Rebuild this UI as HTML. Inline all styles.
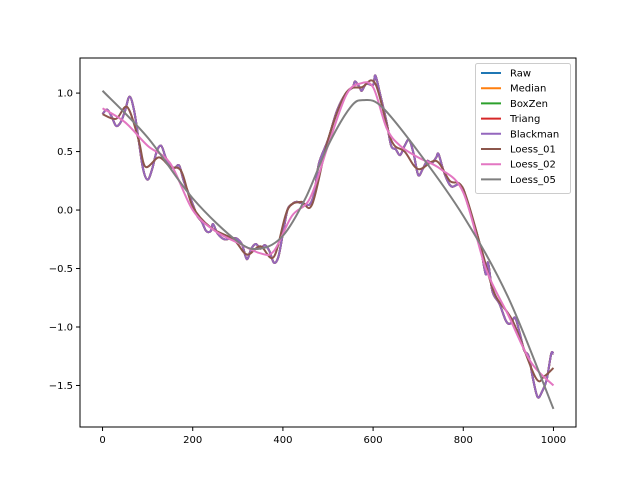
<!DOCTYPE html>
<html><head><meta charset="utf-8"><style>body{margin:0;background:#fff}svg{display:block;font-family:"DejaVu Sans","Liberation Sans",sans-serif}</style></head>
<body>
<svg id="chart" width="640" height="480" viewBox="0 0 640 480">
<rect width="640" height="480" fill="#fff"/>
<g id="plot"></g>
<g id="axes"></g>
<g id="legend"></g>
</svg>
<script>
const rawX=[0,10,20,30,40,50,60,70,80,90,100,110,120,130,140,150,160,170,180,190,200,210,220,230,240,245,255,270,290,300,310,320,330,340,350,360,370,380,390,400,410,420,430,440,450,460,470,480,500,520,540,555,560,570,575,585,600,605,615,630,640,650,660,670,680,690,700,710,720,730,740,745,755,765,775,790,800,810,830,840,850,855,865,880,895,905,915,925,935,945,955,965,975,985,995,1000];
const rawY=[0.82,0.86,0.80,0.72,0.75,0.85,0.97,0.85,0.60,0.35,0.26,0.35,0.50,0.55,0.45,0.37,0.36,0.38,0.25,0.15,0.05,-0.05,-0.10,-0.18,-0.18,-0.12,-0.20,-0.25,-0.24,-0.25,-0.30,-0.42,-0.33,-0.29,-0.33,-0.30,-0.35,-0.45,-0.40,-0.20,0.00,0.05,0.07,0.06,0.05,0.05,0.15,0.40,0.60,0.85,1.00,1.05,1.10,1.05,1.02,1.08,1.07,1.15,1.00,0.75,0.55,0.52,0.47,0.55,0.60,0.48,0.30,0.35,0.42,0.40,0.45,0.48,0.35,0.25,0.20,0.22,0.18,0.05,-0.20,-0.35,-0.55,-0.45,-0.70,-0.80,-0.95,-0.97,-0.92,-1.05,-1.20,-1.25,-1.45,-1.60,-1.55,-1.45,-1.23,-1.23];
const l1X=[0,30,55,80,95,125,150,175,200,240,290,320,350,380,410,440,465,500,540,575,605,640,670,700,740,770,800,840,870,910,960,980,1000];
const l1Y=[0.82,0.78,0.88,0.60,0.37,0.45,0.37,0.33,0.03,-0.15,-0.25,-0.38,-0.31,-0.40,0.00,0.07,0.05,0.60,1.00,1.05,1.08,0.60,0.50,0.35,0.42,0.25,0.18,-0.33,-0.72,-0.95,-1.43,-1.42,-1.35];
const l2X=[0,50,100,150,200,250,300,350,380,420,460,500,540,570,600,630,660,700,750,800,850,900,950,1000];
const l2Y=[0.87,0.75,0.55,0.40,0.00,-0.18,-0.28,-0.37,-0.35,-0.05,0.10,0.55,0.98,1.08,1.05,0.70,0.55,0.45,0.35,0.15,-0.50,-0.90,-1.30,-1.50];
const l5X=[0,100,200,300,350,400,450,500,550,580,620,700,800,900,1000];
const l5Y=[1.02,0.62,0.10,-0.27,-0.33,-0.22,0.10,0.55,0.88,0.94,0.88,0.50,-0.05,-0.75,-1.70];
const xTicks=[0,200,400,600,800,1000];
const yTicks=[-1.5,-1.0,-0.5,0.0,0.5,1.0];
const legendNames=["Raw","Median","BoxZen","Triang","Blackman","Loess_01","Loess_02","Loess_05"];
const legendColors=["#1f77b4","#ff7f0e","#2ca02c","#d62728","#9467bd","#8c564b","#e377c2","#7f7f7f"];

const L=80,R=576,T=58,B=427;
const xmin=-50,xmax=1050,ymin=-1.855,ymax=1.30;
const sx=v=>L+(v-xmin)/(xmax-xmin)*(R-L);
const sy=v=>B-(v-ymin)/(ymax-ymin)*(B-T);
const NS="http://www.w3.org/2000/svg";
function mk(tag,attrs,parent){const e=document.createElementNS(NS,tag);for(const k in attrs)e.setAttribute(k,attrs[k]);parent.appendChild(e);return e;}
function pathD(xs,ys){
  const p=xs.map((x,i)=>[sx(x),sy(ys[i])]);
  let d="M"+p[0][0].toFixed(2)+","+p[0][1].toFixed(2);
  for(let i=0;i<p.length-1;i++){
    const p0=p[i-1]||p[i],p1=p[i],p2=p[i+1],p3=p[i+2]||p[i+1];
    const c1=[p1[0]+(p2[0]-p0[0])/6,p1[1]+(p2[1]-p0[1])/6];
    const c2=[p2[0]-(p3[0]-p1[0])/6,p2[1]-(p3[1]-p1[1])/6];
    d+=" C"+c1.map(v=>v.toFixed(2))+" "+c2.map(v=>v.toFixed(2))+" "+p2.map(v=>v.toFixed(2));
  }
  return d;
}
const plot=document.getElementById('plot');
const series=[[rawX,rawY],[rawX,rawY],[rawX,rawY],[rawX,rawY],[rawX,rawY],[l1X,l1Y],[l2X,l2Y],[l5X,l5Y]];
series.forEach((s,i)=>{
  const e=mk('path',{d:pathD(s[0],s[1]),fill:'none',stroke:legendColors[i],'stroke-width':2,'stroke-linejoin':'round'},plot);
  
  
});
const axes=document.getElementById('axes');
const fr=mk('rect',{x:L,y:T,width:R-L,height:B-T,fill:'none',stroke:'#000','stroke-width':1},axes);


xTicks.forEach(v=>{
  const x=sx(v);
  const t=mk('line',{x1:x,x2:x,y1:B,y2:B+4,stroke:'#000'},axes);
  
  
  const tx=mk('text',{x:x,y:B+16,'font-size':10,'text-anchor':'middle'},axes);
  tx.textContent=String(v);
  
  
});
yTicks.forEach(v=>{
  const y=sy(v);
  const t=mk('line',{x1:L-4,x2:L,y1:y,y2:y,stroke:'#000'},axes);
  
  
  const tx=mk('text',{x:L-7,y:y+3.5,'font-size':10,'text-anchor':'end'},axes);
  tx.textContent=(v<0?"\u2212":"")+Math.abs(v).toFixed(1);
  
  
});
const lg=document.getElementById('legend');
const box=mk('rect',{x:475.5,y:63.5,width:95,height:130,rx:2,fill:'#fff','fill-opacity':0.8,stroke:'#ccc'},lg);


legendNames.forEach((n,i)=>{
  const y=73+i*15.2;
  const ln=mk('line',{x1:481,x2:501,y1:y,y2:y,stroke:legendColors[i],'stroke-width':2},lg);
  
  
  const tx=mk('text',{x:510,y:y+3.5,'font-size':10},lg);
  tx.textContent=n;
  
  
});
</script>
</body></html>
